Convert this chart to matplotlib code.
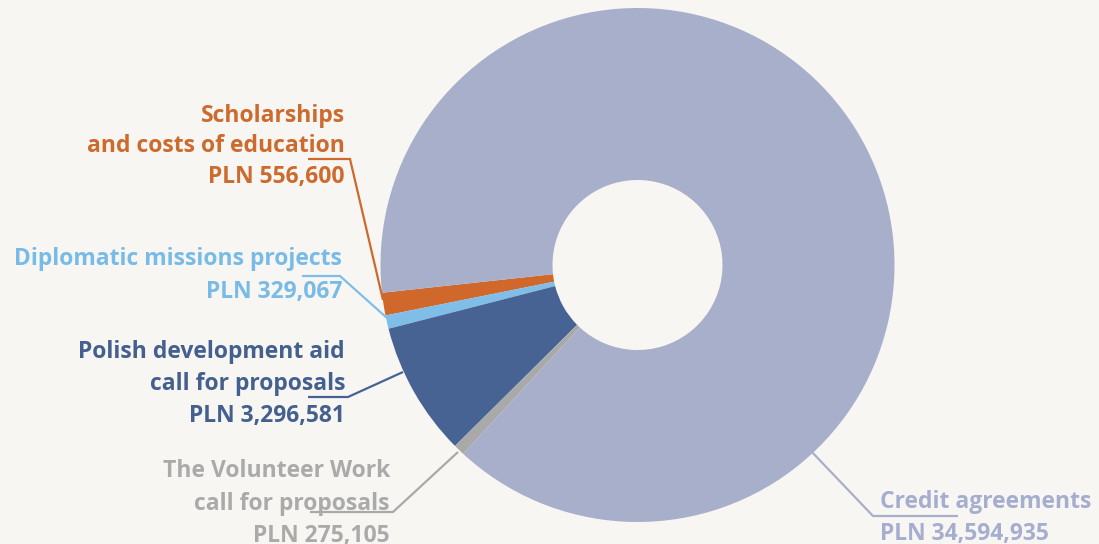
import matplotlib
matplotlib.use("Agg")
import matplotlib.pyplot as plt

# ---- data ----
categories = ["Scholarships\nand costs of education",
              "Diplomatic missions projects",
              "Polish development aid\ncall for proposals",
              "The Volunteer Work\ncall for proposals",
              "Credit agreements"]
values = [556600, 329067, 3296581, 275105, 34594935]
value_labels = ["PLN 556,600", "PLN 329,067", "PLN 3,296,581", "PLN 275,105", "PLN 34,594,935"]

slice_colors = ["#d0682c", "#7fbee8", "#476394", "#a9a9a9", "#a8afcb"]
text_colors = ["#cd6a2e", "#79bbe7", "#43608f", "#aaaaaa", "#a6aed0"]
BG = "#f8f6f2"

W, H = 1099, 544
fig = plt.figure(figsize=(W / 100, H / 100), dpi=100)
fig.patch.set_facecolor(BG)
ax = fig.add_axes([0, 0, 1, 1])
ax.set_facecolor(BG)


def Y(y):
    return H - y


cx, cy, R, r_in = 637.5, 265, 257, 85
ax.pie(values, colors=slice_colors, startangle=186.2, counterclock=True,
       radius=R, center=(cx, Y(cy)),
       wedgeprops=dict(width=R - r_in, edgecolor="none", linewidth=0))
ax.set_xlim(0, W)
ax.set_ylim(0, H)
ax.set_aspect("equal")
ax.axis("off")

FONT = dict(family="Open Sans", weight="bold", fontsize=16.5)

# label layout: (line baselines, x, ha)
layout = [
    ([122, 152, 183], 345, "right"),
    ([265, 298], 342, "right"),
    ([358, 390, 422], 345, "right"),
    ([477, 510, 542], 390, "right"),
    ([508, 540], 880, "left"),
]
# leader lines: (horizontal start, horizontal end/elbow, wedge point)
leaders = [
    [(308, 159), (350, 159), (383, 300)],
    [(302, 276), (340, 276), (387, 318)],
    [(308, 397), (348, 397), (403, 372)],
    [(310, 512), (393, 512), (458, 452)],
    [(958, 516), (873, 516), (810, 450)],
]

for i, (cat, val) in enumerate(zip(categories, value_labels)):
    lines = cat.split("\n") + [val]
    ys, x, ha = layout[i]
    for ln, yb in zip(lines, ys):
        ax.text(x, Y(yb), ln, ha=ha, va="baseline", color=text_colors[i], **FONT)
    pts = leaders[i]
    ax.plot([p[0] for p in pts], [Y(p[1]) for p in pts], color=slice_colors[i],
            lw=1.6, solid_capstyle="butt", solid_joinstyle="miter")

fig.savefig("out.png", dpi=100, facecolor=BG)
